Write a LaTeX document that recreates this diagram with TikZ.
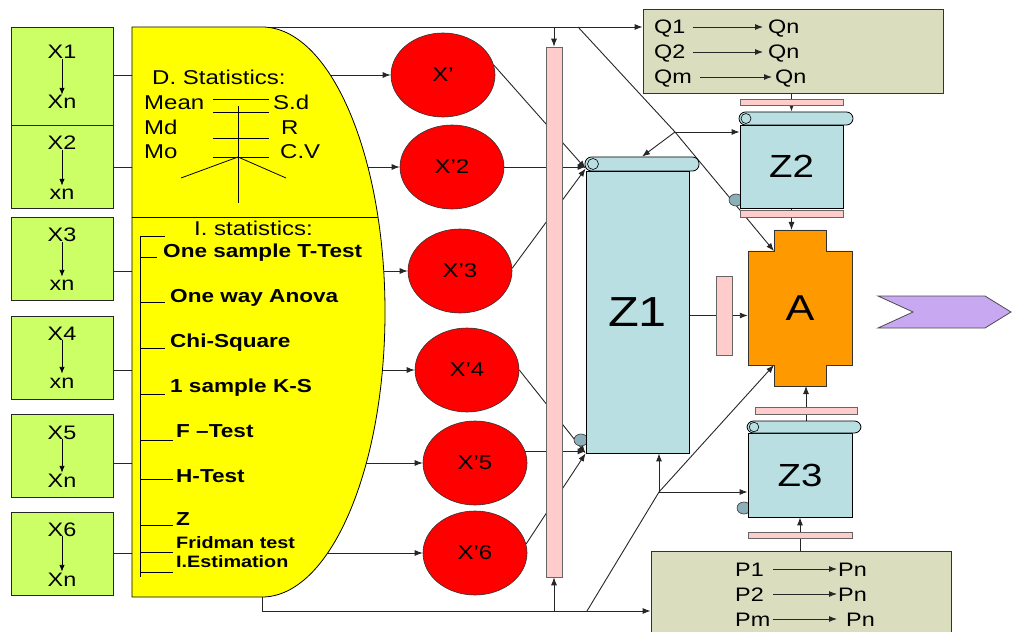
\documentclass[tikz,border=0pt]{standalone}
\usepackage{fontspec}
\setmainfont[FakeStretch=1.2]{Liberation Sans}
\usetikzlibrary{arrows.meta,shapes.geometric,calc}
\pgfdeclarelayer{bg}
\pgfsetlayers{bg,main}
\definecolor{gbox}{RGB}{204,255,102}
\definecolor{yel}{RGB}{255,255,0}
\definecolor{pinkb}{RGB}{255,204,204}
\definecolor{zblue}{RGB}{185,223,227}
\definecolor{curlc}{RGB}{140,175,185}
\definecolor{qbox}{RGB}{218,222,191}
\definecolor{aor}{RGB}{255,153,0}
\definecolor{lav}{RGB}{200,168,240}
\tikzset{
 ln/.style={draw=black!85, line width=0.9bp},
 arr/.style={ln, -{Latex[length=8bp,width=6bp]}},
 gbx/.style={draw=black!85, line width=0.8bp, fill=gbox, inner sep=0, minimum width=102bp},
 f20/.style={inner sep=0, font=\fontsize{20bp}{24bp}\selectfont},
 lab/.style={inner sep=0, font=\fontsize{19.5bp}{23bp}\selectfont, text height=14bp, text depth=0bp},
 bl/.style={inner sep=0, anchor=base west, font=\bfseries\fontsize{18.8bp}{22bp}\selectfont},
 bls/.style={inner sep=0, anchor=base west, font=\bfseries\fontsize{16.5bp}{20bp}\selectfont},
 circ/.style={ellipse, draw=black!80, line width=0.6bp, fill=red, minimum width=104bp, minimum height=84bp, inner sep=0, font=\fontsize{20bp}{24bp}\selectfont},
 pinkbar/.style={draw=black!60, line width=0.6bp, fill=pinkb, inner sep=0},
 zbox/.style={draw=black, line width=0.8bp, fill=zblue, inner sep=0},
 zroll/.style={zbox, rounded corners=6.5bp},
 qbx/.style={draw=black!80, line width=0.8bp, fill=qbox, inner sep=0},
 curl/.style={draw=black!80, line width=0.6bp, fill=curlc},
}
\begin{document}
\begin{tikzpicture}[x=1bp,y=-1bp]
\useasboundingbox (0,0) rectangle (1012,632);

% green input boxes
\foreach \i/\cy/\h/\tb/\ta/\ub/\ua in {1/76/98/59/X1/109/Xn, 2/166.5/83/150/X2/200/xn, 3/258.5/83/242/X3/291/xn, 4/357.5/83/340/X4/388/xn, 5/455.5/83/439/X5/487/Xn, 6/553.5/83/536/X6/586/Xn}{
  \node[gbx, minimum height=\h bp] (gb\i) at (62,\cy) {};
  \node[lab, anchor=base] (gt\i) at (62,\tb) {\ta};
  \node[lab, anchor=base] (gu\i) at (62,\ub) {\ua};
  \draw[-{Latex[length=7bp,width=5.5bp]}, line width=0.9bp] (gt\i.south) -- (gu\i.north);
}

% yellow statistics shape
\path[draw=black, line width=0.8bp, fill=yel] (132,27) -- (262,27) arc[start angle=-90, end angle=90, x radius=123, y radius=285] -- (132,597) -- cycle;
\coordinate (ytop) at (262,27);
\coordinate (ybot) at (262,597);
\coordinate (blc) at (262,611);
\draw[line width=0.8bp] (132,217) -- (378,217);

% descriptive statistics
\node[f20, anchor=base west] (dst) at (152,85) {D. Statistics:};
\node[f20, anchor=base west] (mean) at (144,110) {Mean};
\node[f20, anchor=base west] (md) at (144,135) {Md};
\node[f20, anchor=base west] (mo) at (144,159) {Mo};
\node[f20, anchor=base west] (sd) at (273,110) {S.d};
\node[f20, anchor=base west] (rr) at (281,135) {R};
\node[f20, anchor=base west] (cv) at (280,159) {C.V};
\draw[line width=0.8bp] (213,99) -- (269,99) (213,112) -- (269,112) (213,138) -- (269,138) (213,157) -- (269,157);
\draw[line width=0.8bp] (238,106) -- (238,203);
\draw[line width=0.8bp] (181,178) -- (238,157) -- (286,178);

% inferential statistics
\node[f20, anchor=base west] (ist) at (194,236) {I. statistics:};
\draw[line width=0.8bp] (140,236) -- (140,577);
\foreach \y/\l in {236/165, 257/157, 302/165, 348/165, 394/165, 440/173, 479/173, 525/173, 552/173, 572/173}
  \draw[line width=0.8bp] (140,\y) -- (\l,\y);
\node[bl] (t1) at (163,258) {One sample T-Test};
\node[bl] (t2) at (170,303) {One way Anova};
\node[bl] (t3) at (170,347) {Chi-Square};
\node[bl] (t4) at (170,392) {1 sample K-S};
\node[bl] (t5) at (176,437) {F –Test};
\node[bl] (t6) at (176,482) {H-Test};
\node[bl] (t7) at (176,525) {Z};
\node[bls] (t8) at (176,548) {Fridman test};
\node[bls] (t9) at (176,567) {I.Estimation};

% red ellipses
\foreach \i/\x/\y/\t in {1/443/75/X’, 2/452/167/X’2, 3/460/271/X’3, 4/467/370/X’4, 5/475/463/X’5, 6/475/553/X’6}
  \node[circ] (c\i) at (\x,\y) {\t};

% long pink bar
\node[pinkbar, minimum width=16bp, minimum height=530bp] (pb) at (554,312) {};

% Q box
\node[qbx, minimum width=300bp, minimum height=84bp] (qb) at (793,51) {};
\node[lab, anchor=base west] (q1) at (654,34) {Q1};
\node[lab, anchor=base west] (q1n) at (768,34) {Qn};
\node[lab, anchor=base west] (q2) at (654,59) {Q2};
\node[lab, anchor=base west] (q2n) at (768,59) {Qn};
\node[lab, anchor=base west] (qm) at (654,84) {Qm};
\node[lab, anchor=base west] (qmn) at (775,84) {Qn};
\draw[arr, shorten <=7bp, shorten >=5bp] (q1.east) -- (q1n.west);
\draw[arr, shorten <=7bp, shorten >=5bp] (q2.east) -- (q2n.west);
\draw[arr, shorten <=8bp, shorten >=3bp] (qm.east) -- (qmn.west);

% P box
\node[qbx, minimum width=300bp, minimum height=94bp] (pbx) at (801,598) {};
\node[lab, anchor=base west] (p1) at (735,576) {P1};
\node[lab, anchor=base west] (p1n) at (838,576) {Pn};
\node[lab, anchor=base west] (p2) at (735,601) {P2};
\node[lab, anchor=base west] (p2n) at (838,601) {Pn};
\node[lab, anchor=base west] (pm) at (735,626) {Pm};
\node[lab, anchor=base west] (pmn) at (846,626) {Pn};
\draw[arr, shorten <=9bp, shorten >=1bp] (p1.east) -- (p1n.west);
\draw[arr, shorten <=9bp, shorten >=1bp] (p2.east) -- (p2n.west);
\draw[arr, shorten <=2bp, shorten >=9bp] (pm.east) -- (pmn.west);

% Z1 scroll
\draw[curl] (581,440) ellipse [x radius=7bp, y radius=6bp];
\node[zbox, minimum width=103bp, minimum height=282bp, font=\fontsize{42bp}{48bp}\selectfont] (z1) at (637.5,312) {Z1};
\node[zroll, minimum width=114bp, minimum height=14bp] (z1r) at (642,164) {};
\draw[line width=0.6bp] (593,164) circle (5.5bp);
\coordinate (z1a) at ($(z1.north west)+(0,-2)$);

% Z2 scroll
\draw[curl] (736,200) ellipse [x radius=7bp, y radius=6bp];
\node[zbox, minimum width=103bp, minimum height=83bp, font=\fontsize{32bp}{38bp}\selectfont] (z2) at (791.5,166.5) {Z2};
\node[zroll, minimum width=114bp, minimum height=13bp] (z2r) at (796,118.5) {};
\draw[line width=0.6bp] (746,118.5) circle (5bp);

% Z3 scroll
\draw[curl] (744,508) ellipse [x radius=7bp, y radius=6bp];
\node[zbox, minimum width=104bp, minimum height=84bp, font=\fontsize{32bp}{38bp}\selectfont] (z3) at (800,475) {Z3};
\node[zroll, minimum width=114bp, minimum height=12bp] (z3r) at (804,427) {};
\draw[line width=0.6bp] (754,427) circle (4.8bp);

% small pink bars
\node[pinkbar, minimum width=103bp, minimum height=6bp] (pq) at (791.5,102) {};
\node[pinkbar, minimum width=103bp, minimum height=7bp] (pz2) at (791.5,213.5) {};
\node[pinkbar, minimum width=16bp, minimum height=79bp] (pa) at (724,315.5) {};
\node[pinkbar, minimum width=102bp, minimum height=7bp] (pz3t) at (806,410.5) {};
\node[pinkbar, minimum width=104bp, minimum height=6bp] (pz3b) at (800,535) {};

% A shape
\draw[fill=aor, line width=0.8bp, draw=black!80] (774,230) -- (826,230) -- (826,251) -- (852,251) -- (852,365) -- (826,365) -- (826,386) -- (774,386) -- (774,365) -- (748,365) -- (748,251) -- (774,251) -- cycle;
\node[inner sep=0, minimum width=104bp, minimum height=114bp, font=\fontsize{36bp}{42bp}\selectfont] (a) at (800,308) {A};
\coordinate (aT) at (800,230);
\coordinate (aB) at (800,386);
\coordinate (aTL) at (774,251);
\coordinate (aBL) at (774,365);

% output chevron
\draw[fill=lav, draw=black!70, line width=0.8bp] (878,296) -- (985,296) -- (1011,312) -- (985,328) -- (878,328) -- (913,312) -- cycle;

% connectors (behind shapes)
\coordinate (d1) at (578,27);
\coordinate (j1) at (675,132);
\coordinate (d2) at (587,611);
\coordinate (j2) at (659,492);
\begin{pgfonlayer}{bg}
  \foreach \i in {1,...,6}
    \draw[arr] (gb\i.east |- c\i.west) -- (c\i.west);
  \draw[arr] (ytop) -- (ytop -| qb.west);
  \draw[arr] (ytop -| pb.north) -- (pb.north);
  \draw[ln] (ybot) -- (blc);
  \draw[arr] (blc) -- (blc -| pbx.west);
  \draw[arr] (blc -| pb.south) -- (pb.south);
  \draw[arr] (d1) -- (j1) -- (aTL);
  \draw[arr] (j1) -- (j1 -| z2.west);
  \draw[arr] (j1) -- (z1r.north);
  \draw[arr] (d2) -- (j2) -- (aBL);
  \draw[arr] (j2) -- (j2 |- z1.south);
  \draw[arr] (j2) -- (j2 -| z3.west);
  \draw[arr] (c1.11) -- (z1a);
  \draw[arr] (c2.east) -- (c2.east -| z1.west);
  \draw[arr] (c3.3) -- (z1a);
  \draw[arr] (c4.east) -- (z1.south west);
  \draw[arr] (c5.13) -- (c5.13 -| z1.west);
  \draw[arr] (c6.10) -- (z1.south west);
  \draw[arr] (z1.east |- pa.center) -- (pa.center -| a.west);
  \draw[arr] (qb.south -| z2.north) -- (z2r.north -| z2.north);
  \draw[arr] (z2.south) -- (z2.south |- aT);
  \draw[arr] (z3r.north -| pz3t.center) -- (pz3t.center |- aB);
  \draw[arr] (pbx.north -| z3.south) -- (z3.south);
\end{pgfonlayer}
\end{tikzpicture}
\end{document}
